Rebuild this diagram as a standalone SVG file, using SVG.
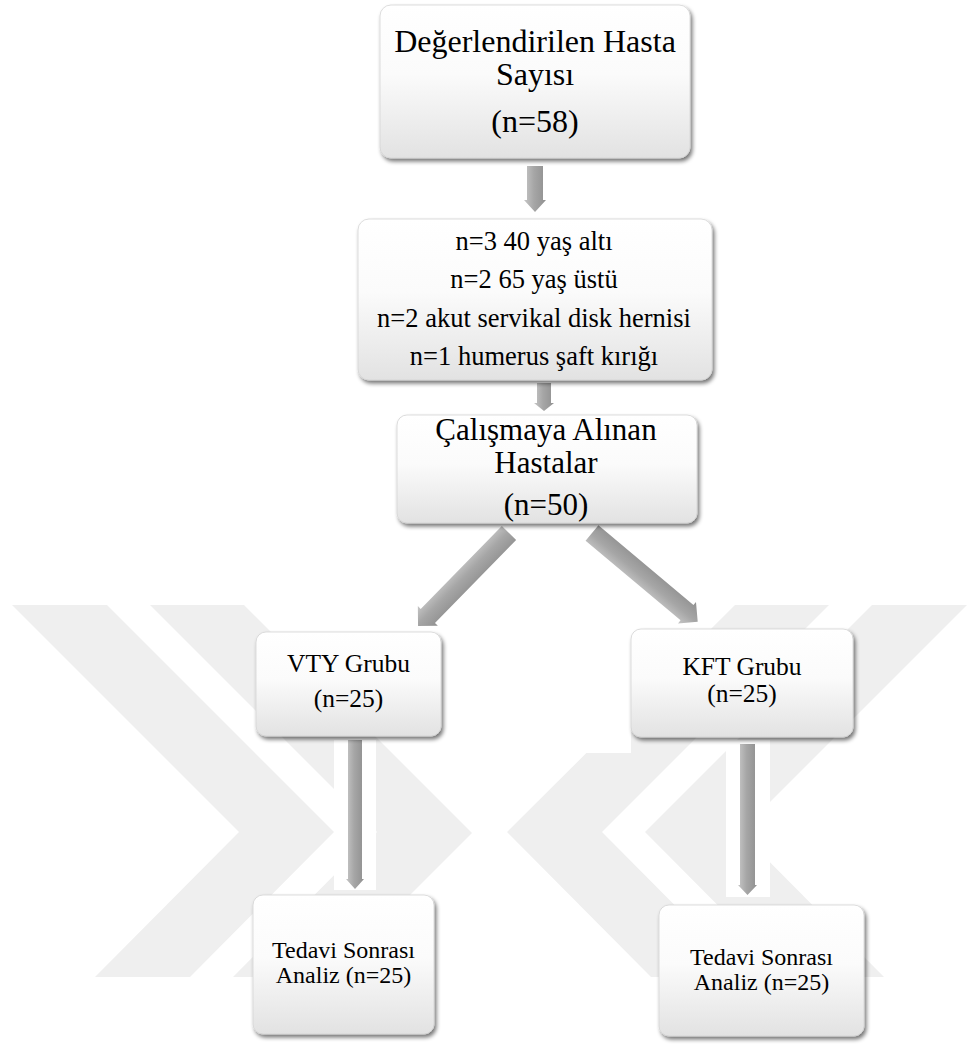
<svg xmlns="http://www.w3.org/2000/svg" width="979" height="1044" viewBox="0 0 979 1044">
<defs>
<linearGradient id="boxGrad" x1="0" y1="0" x2="0" y2="1">
<stop offset="0" stop-color="#ffffff"/>
<stop offset="0.45" stop-color="#fbfbfb"/>
<stop offset="1" stop-color="#e2e2e2"/>
</linearGradient>
<linearGradient id="arrGrad" x1="0" y1="0" x2="1" y2="0">
<stop offset="0" stop-color="#c6c6c6"/>
<stop offset="0.45" stop-color="#a6a6a6"/>
<stop offset="1" stop-color="#909090"/>
</linearGradient>
<filter id="shadow" x="-10%" y="-10%" width="125%" height="130%">
<feGaussianBlur in="SourceAlpha" stdDeviation="2.2"/>
<feOffset dx="1.5" dy="3" result="b"/>
<feComponentTransfer><feFuncA type="linear" slope="0.55"/></feComponentTransfer>
<feMerge><feMergeNode/><feMergeNode in="SourceGraphic"/></feMerge>
</filter>
</defs>
<style>
.box{fill:url(#boxGrad);stroke:#d4d4d4;stroke-width:0.8;filter:url(#shadow)}
.t{fill:#000;text-anchor:middle}
.arr{fill:url(#arrGrad)}
.wm{fill:#efefef}
.bg{fill:#ffffff}
</style>
<rect width="979" height="1044" fill="#ffffff"/>
<g id="watermark">
<polygon class="wm" points="12,605 107,605 334,832 190,977 95,977 239,832"/>
<polygon class="wm" points="150,605 244,605 472,833 328,977 233,977 377,832"/>
<polygon class="wm" points="967,605 872,605 645,832 789,977 884,977 740,832"/>
<polygon class="wm" points="829,605 735,605 507,832 651,977 746,977 602,832"/>
<rect class="bg" x="334" y="740" width="42" height="150"/>
<rect class="bg" x="726" y="740" width="44" height="157"/>
<rect class="bg" x="572" y="617" width="59" height="136"/>
</g>
<g id="connectors">
<path class="arr" d="M527,166 H543 V200 H546 L535,212 L524,200 H527 Z"/>
<path class="arr" d="M537,383 H551 V403 H554 L544,411 L534,403 H537 Z"/>
<g transform="translate(509,533) rotate(44.4)">
<path class="arr" d="M-10,0 H10 V116 H14 L0,130 L-14,116 H-10 Z"/>
</g>
<g transform="translate(592,533) rotate(-50)">
<path class="arr" d="M-10,0 H10 V124 H14 L0,138 L-14,124 H-10 Z"/>
</g>
<path class="arr" d="M348,740 H362 V879 H364 L355,889 L346,879 H348 Z"/>
<path class="arr" d="M740,744 H755 V885 H757 L747.5,895 L738,885 H740 Z"/>
</g>
<g font-family="'Liberation Serif', 'Times New Roman', serif">
<g id="node-degerlendirilen">
<rect class="box" x="380" y="5" width="310" height="153" rx="11"/>
<text class="t" x="535" y="52" font-size="32">Değerlendirilen Hasta</text>
<text class="t" x="535" y="85" font-size="32">Sayısı</text>
<text class="t" x="535" y="132" font-size="32">(n=58)</text>
</g>
<g id="node-exclusion">
<rect class="box" x="358" y="219" width="354" height="161" rx="11"/>
<text class="t" x="534" y="250" font-size="26.5">n=3 40 yaş altı</text>
<text class="t" x="534" y="288" font-size="26.5">n=2 65 yaş üstü</text>
<text class="t" x="534" y="327" font-size="26.5">n=2 akut servikal disk hernisi</text>
<text class="t" x="534" y="365" font-size="26.5">n=1 humerus şaft kırığı</text>
</g>
<g id="node-calismaya">
<rect class="box" x="397" y="415" width="300" height="108" rx="10"/>
<text class="t" x="546" y="440" font-size="31">Çalışmaya Alınan</text>
<text class="t" x="546" y="473" font-size="31">Hastalar</text>
<text class="t" x="546" y="515" font-size="31">(n=50)</text>
</g>
<g id="node-vty">
<rect class="box" x="256" y="632" width="185" height="104" rx="10"/>
<text class="t" x="348.5" y="672" font-size="25.5">VTY Grubu</text>
<text class="t" x="348.5" y="707" font-size="25.5">(n=25)</text>
</g>
<g id="node-kft">
<rect class="box" x="631" y="629" width="222" height="108" rx="10"/>
<text class="t" x="742" y="675" font-size="25.5">KFT Grubu</text>
<text class="t" x="742" y="702" font-size="25.5">(n=25)</text>
</g>
<g id="node-vty-analiz">
<rect class="box" x="253" y="895" width="181" height="139" rx="10"/>
<text class="t" x="343.5" y="958" font-size="24">Tedavi Sonrası</text>
<text class="t" x="343.5" y="983" font-size="24">Analiz (n=25)</text>
</g>
<g id="node-kft-analiz">
<rect class="box" x="659" y="905" width="205" height="131" rx="10"/>
<text class="t" x="761.5" y="965" font-size="24">Tedavi Sonrası</text>
<text class="t" x="761.5" y="990" font-size="24">Analiz (n=25)</text>
</g>
</g>
</svg>
